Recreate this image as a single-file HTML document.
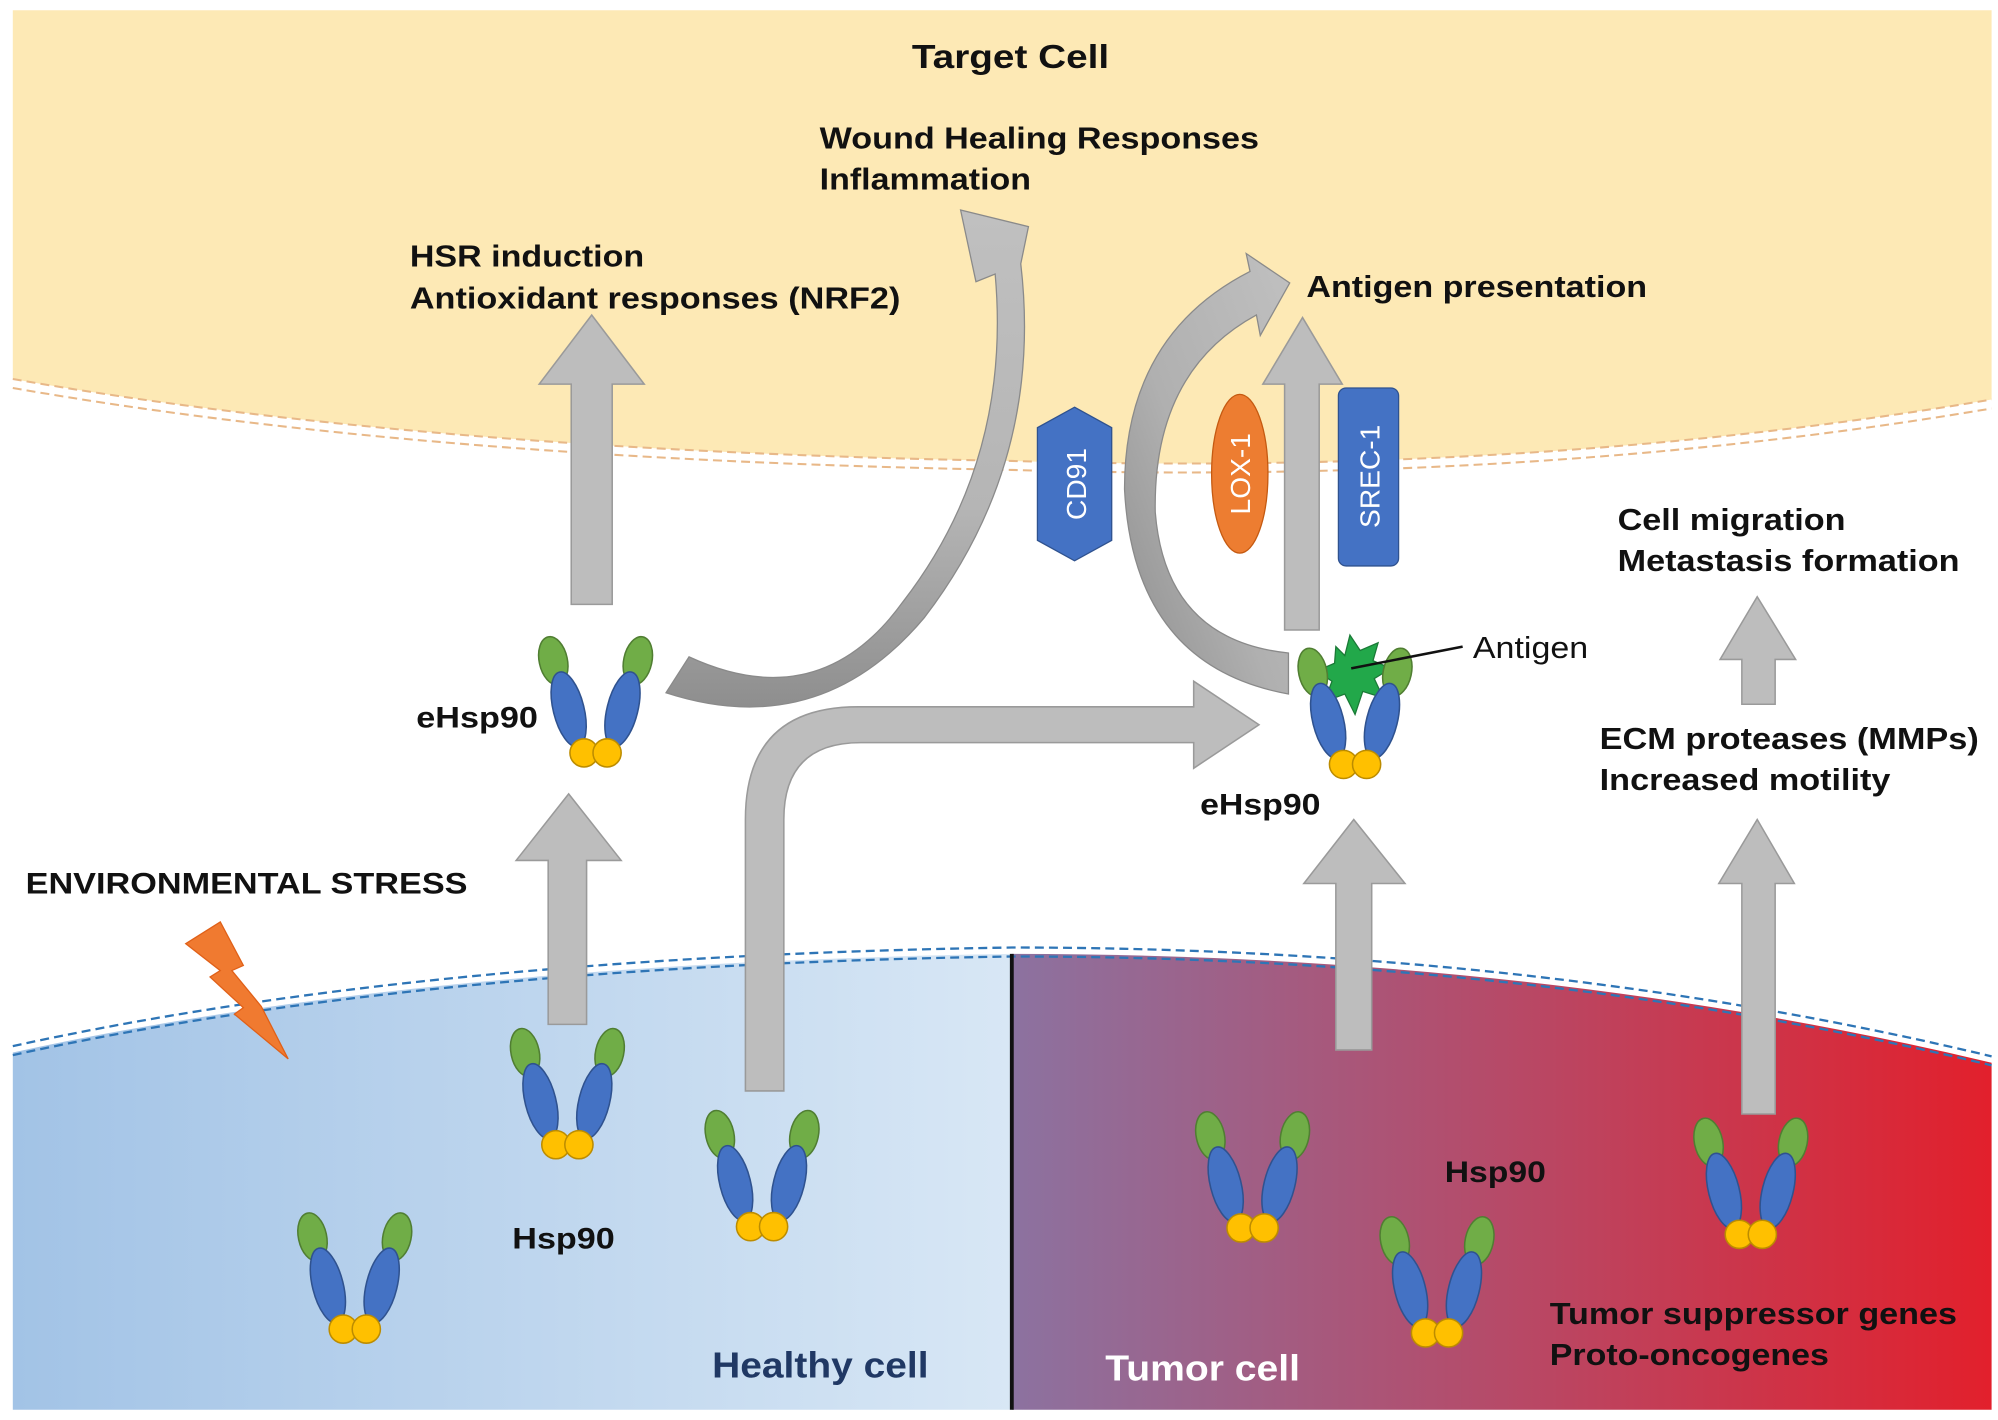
<!DOCTYPE html>
<html><head><meta charset="utf-8"><style>
html,body{margin:0;padding:0;background:#fff;width:1998px;height:1420px;overflow:hidden}
svg{display:block}
text{font-family:"Liberation Sans",Arial,sans-serif;font-weight:bold;fill:#111}
</style></head><body>
<svg width="1998" height="1420" viewBox="0 0 1560 1109" preserveAspectRatio="none" xmlns="http://www.w3.org/2000/svg">
<defs>
<linearGradient id="hb" x1="0" x2="1" y1="0" y2="0"><stop offset="0" stop-color="#a2c3e6"/><stop offset="1" stop-color="#d8e7f5"/></linearGradient>
<linearGradient id="tb" x1="0" x2="1" y1="0" y2="0"><stop offset="0" stop-color="#8c72a0"/><stop offset="0.5" stop-color="#b64a68"/><stop offset="1" stop-color="#e2202c"/></linearGradient>
<linearGradient id="ga" x1="0" x2="0" y1="0" y2="1"><stop offset="0" stop-color="#c0c0c0"/><stop offset="0.6" stop-color="#b5b5b5"/><stop offset="1" stop-color="#8e8e8e"/></linearGradient>
<linearGradient id="gb" x1="1" x2="0" y1="0" y2="1"><stop offset="0" stop-color="#c0c0c0"/><stop offset="0.55" stop-color="#b0b0b0"/><stop offset="1" stop-color="#8e8e8e"/></linearGradient>
<g id="m">
<ellipse cx="-33" cy="0" rx="11" ry="19" transform="rotate(-12 -33 0)" fill="#70ad47" stroke="#507e32" stroke-width="1.2"/>
<ellipse cx="33" cy="0" rx="11" ry="19" transform="rotate(12 33 0)" fill="#70ad47" stroke="#507e32" stroke-width="1.2"/>
<ellipse cx="-21" cy="38" rx="12" ry="30" transform="rotate(-14 -21 38)" fill="#4472c4" stroke="#2f528f" stroke-width="1.2"/>
<ellipse cx="21" cy="38" rx="12" ry="30" transform="rotate(14 21 38)" fill="#4472c4" stroke="#2f528f" stroke-width="1.2"/>
<circle cx="-9" cy="72" r="11" fill="#ffc000" stroke="#bc8c00" stroke-width="1.2"/>
<circle cx="9" cy="72" r="11" fill="#ffc000" stroke="#bc8c00" stroke-width="1.2"/>
</g>
</defs>
<path d="M10,8 L1555,8 L1555,312 Q1200,372 790,360 Q330,352 10,296 Z" fill="#fde9b5"/>
<path d="M10,296 Q330,352 790,360 Q1200,372 1555,312" fill="none" stroke="#e8b888" stroke-width="1.6" stroke-dasharray="7,4"/>
<path d="M10,303 Q330,359 790,367 Q1200,379 1555,319" fill="none" stroke="#e8b888" stroke-width="1.6" stroke-dasharray="7,4"/>
<path d="M10,822 Q330,752 790,745 L790,1101 L10,1101 Z" fill="url(#hb)"/>
<path d="M790,745 Q1200,745 1555,830 L1555,1101 L790,1101 Z" fill="url(#tb)"/>
<path d="M10,817 Q330,747 790,740 Q1200,740 1555,825" fill="none" stroke="#2e75b6" stroke-width="1.8" stroke-dasharray="7,4"/>
<path d="M10,824 Q330,754 790,747 Q1200,747 1555,832" fill="none" stroke="#2e75b6" stroke-width="1.8" stroke-dasharray="7,4"/>
<line x1="790" y1="745" x2="790" y2="1101" stroke="#111" stroke-width="3"/>
<g fill="#bdbdbd" stroke="#9a9a9a" stroke-width="1.2">
<path d="M446,472 L446,300 L421,300 L462,246 L503,300 L478,300 L478,472 Z"/>
<path d="M428,800 L428,672 L403,672 L444,620 L485,672 L458,672 L458,800 Z"/>
<path d="M1003,492 L1003,300 L986,300 L1017,248 L1048,300 L1030,300 L1030,492 Z"/>
<path d="M1043,820 L1043,690 L1018,690 L1057,640 L1097,690 L1071,690 L1071,820 Z"/>
<path d="M1360,870 L1360,690 L1342,690 L1372,640 L1401,690 L1386,690 L1386,870 Z"/>
<path d="M1360,550 L1360,515 L1343,515 L1372,466 L1402,515 L1386,515 L1386,550 Z"/>
<path d="M582,852 L582,640 Q582,552 670,552 L932,552 L932,532 L983,566 L932,600 L932,580 L672,580 Q612,580 612,640 L612,852 Z"/>
</g>
<path d="M538,513 Q640,560 705,470 Q790,360 777,214 L762,220 L750,164 L803,177 L797,206 Q815,360 722,482 Q640,580 520,541 Z" fill="url(#ga)" stroke="#8a8a8a" stroke-width="1"/>
<path d="M1006,510 Q910,500 902,400 Q900,290 981,246 L984,262 L1007,221 L973,198 L976,212 Q878,262 878,382 Q885,520 1006,542 Z" fill="url(#gb)" stroke="#8a8a8a" stroke-width="1"/>
<polygon points="839,318 868,334 868,422 839,438 810,422 810,334" fill="#4472c4" stroke="#2f528f" stroke-width="1"/>
<text transform="translate(848,378) rotate(-90)" text-anchor="middle" font-size="22" style="fill:#fff;font-weight:normal">CD91</text>
<ellipse cx="968" cy="370" rx="22" ry="62" fill="#ed7d31" stroke="#c55a11" stroke-width="1"/>
<text transform="translate(976,370) rotate(-90)" text-anchor="middle" font-size="22" style="fill:#fff;font-weight:normal">LOX-1</text>
<rect x="1045" y="303" width="47" height="139" rx="6" fill="#4472c4" stroke="#2f528f" stroke-width="1"/>
<text transform="translate(1077,372) rotate(-90)" text-anchor="middle" font-size="22" style="fill:#fff;font-weight:normal">SREC-1</text>
<use href="#m" x="465" y="516"/>
<use href="#m" x="443" y="822"/>
<use href="#m" x="595" y="886"/>
<use href="#m" x="277" y="966"/>
<use href="#m" x="978" y="887"/>
<use href="#m" x="1122" y="969"/>
<use href="#m" x="1367" y="892"/>
<polygon points="1043,505 1050,512 1054,496 1062,508 1076,502 1072,516 1086,522 1073,530 1080,545 1064,540 1058,558 1050,542 1034,548 1040,532 1028,524 1042,518" fill="#22a84a" stroke="#1a7a36" stroke-width="1"/>
<use href="#m" x="1058" y="525"/>
<line x1="1055" y1="522" x2="1142" y2="505" stroke="#111" stroke-width="2"/>
<polygon points="145,737 172,720 190,754 181,758 204,786 225,827 183,792 190,787 164,763 172,758" fill="#f07a30" stroke="#e06018" stroke-width="1"/>
<g lengthAdjust="spacingAndGlyphs">
<text x="712" y="53" font-size="26" textLength="154" lengthAdjust="spacingAndGlyphs">Target Cell</text>
<text x="640" y="116" font-size="24" textLength="343" lengthAdjust="spacingAndGlyphs">Wound Healing Responses</text>
<text x="640" y="148" font-size="24" textLength="165" lengthAdjust="spacingAndGlyphs">Inflammation</text>
<text x="320" y="208" font-size="24" textLength="183" lengthAdjust="spacingAndGlyphs">HSR induction</text>
<text x="320" y="241" font-size="24" textLength="383" lengthAdjust="spacingAndGlyphs">Antioxidant responses (NRF2)</text>
<text x="1020" y="232" font-size="24" textLength="266" lengthAdjust="spacingAndGlyphs">Antigen presentation</text>
<text x="1263" y="414" font-size="24" textLength="178" lengthAdjust="spacingAndGlyphs">Cell migration</text>
<text x="1263" y="446" font-size="24" textLength="267" lengthAdjust="spacingAndGlyphs">Metastasis formation</text>
<text x="1150" y="514" font-size="24" textLength="90" lengthAdjust="spacingAndGlyphs" style="font-weight:normal">Antigen</text>
<text x="325" y="568" font-size="23" textLength="95" lengthAdjust="spacingAndGlyphs">eHsp90</text>
<text x="937" y="636" font-size="23" textLength="94" lengthAdjust="spacingAndGlyphs">eHsp90</text>
<text x="1249" y="585" font-size="24" textLength="296" lengthAdjust="spacingAndGlyphs">ECM proteases (MMPs)</text>
<text x="1249" y="617" font-size="24" textLength="227" lengthAdjust="spacingAndGlyphs">Increased motility</text>
<text x="20" y="698" font-size="23" textLength="345" lengthAdjust="spacingAndGlyphs">ENVIRONMENTAL STRESS</text>
<text x="400" y="975" font-size="23" textLength="80" lengthAdjust="spacingAndGlyphs">Hsp90</text>
<text x="1128" y="923" font-size="23" textLength="79" lengthAdjust="spacingAndGlyphs">Hsp90</text>
<text x="1210" y="1034" font-size="24" textLength="318" lengthAdjust="spacingAndGlyphs">Tumor suppressor genes</text>
<text x="1210" y="1066" font-size="24" textLength="218" lengthAdjust="spacingAndGlyphs">Proto-oncogenes</text>
<text x="556" y="1076" font-size="28" textLength="169" lengthAdjust="spacingAndGlyphs" style="fill:#203864">Healthy cell</text>
<text x="863" y="1078" font-size="28" textLength="152" lengthAdjust="spacingAndGlyphs" style="fill:#fff">Tumor cell</text>
</g>
</svg>
</body></html>
